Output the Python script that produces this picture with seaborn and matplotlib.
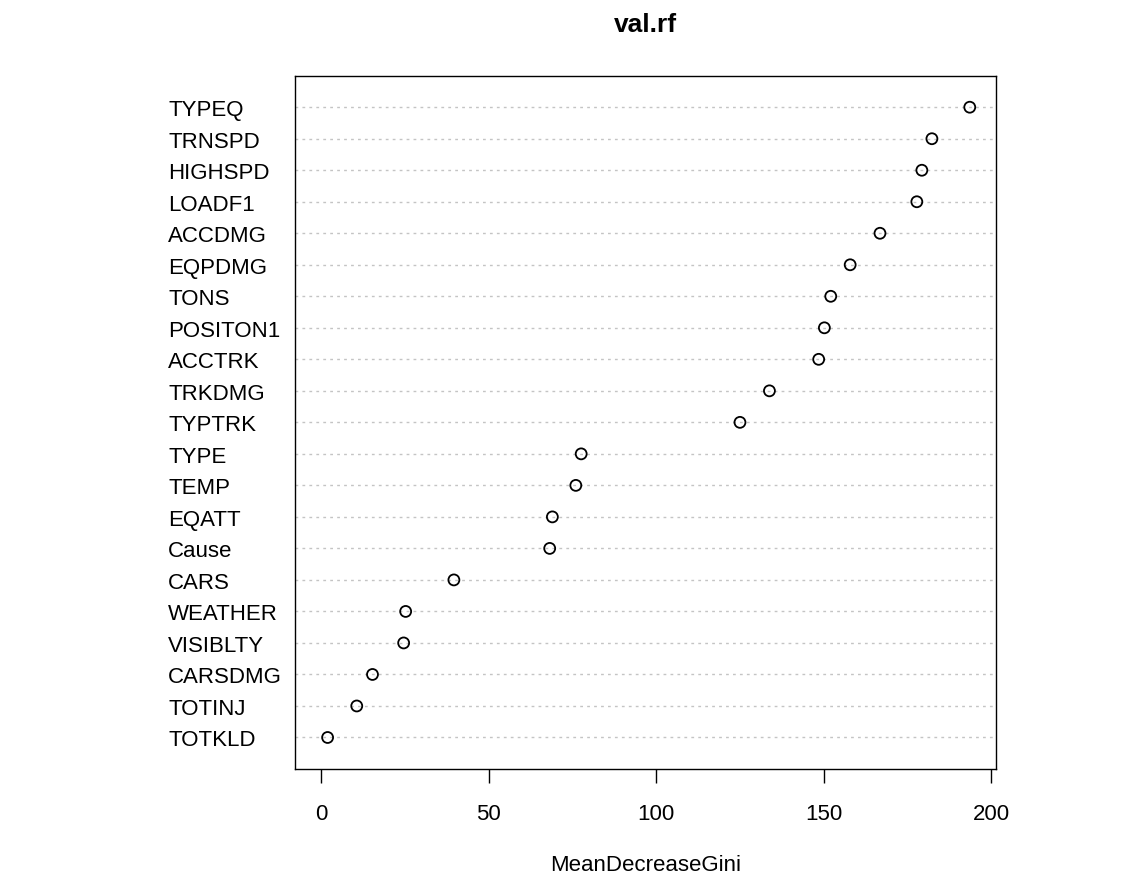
import matplotlib
matplotlib.use("Agg")
import matplotlib.pyplot as plt
import seaborn as sns
import pandas as pd
import numpy as np

# ---- data ----
variables = ["TYPEQ", "TRNSPD", "HIGHSPD", "LOADF1", "ACCDMG", "EQPDMG", "TONS",
             "POSITON1", "ACCTRK", "TRKDMG", "TYPTRK", "TYPE", "TEMP", "EQATT",
             "Cause", "CARS", "WEATHER", "VISIBLTY", "CARSDMG", "TOTINJ", "TOTKLD"]
gini = [193.6, 182.3, 179.3, 177.8, 166.8, 157.9, 152.1,
        150.2, 148.5, 133.8, 125.0, 77.6, 76.0, 69.0,
        68.2, 39.6, 25.2, 24.6, 15.3, 10.6, 1.9]
xticks = [0, 50, 100, 150, 200]
title = "val.rf"
xlabel = "MeanDecreaseGini"

sns.set_theme(style="white")
plt.rcParams["font.family"] = ["Liberation Sans", "DejaVu Sans"]

n = len(variables)
df = pd.DataFrame({"variable": variables, "gini": gini,
                   "pos": np.arange(n, 0, -1)})

W, H = 1145, 879
fig = plt.figure(figsize=(W / 100, H / 100), dpi=100)
left, right, top, bottom = 295.3, 995.7, 76.7, 770.0
ax = fig.add_axes([left / W, 1 - bottom / H, (right - left) / W, (bottom - top) / H])

for p in df["pos"]:
    ax.axhline(p, color="#c4c4c4", lw=1.0, ls=(0, (2, 3)), zorder=1)

sns.scatterplot(data=df, x="gini", y="pos", ax=ax, marker="o", s=62,
                facecolors="none", edgecolor="black", linewidth=1.3,
                zorder=3, legend=False)

mx = max(gini)
ax.set_xlim(-0.04 * mx, 1.04 * mx)
ax.set_ylim(0, n + 1)
ax.set_xticks(xticks)
ax.set_xticklabels([str(t) for t in xticks])
ax.set_yticks(df["pos"])
ax.set_yticklabels(df["variable"])

ax.tick_params(axis="x", length=10, width=1, pad=14.5, labelsize=16,
               colors="black", direction="out", bottom=True)
ax.tick_params(axis="y", length=0, pad=91.4, labelsize=16, colors="black")
for lbl in ax.get_yticklabels():
    lbl.set_ha("left")

for s in ax.spines.values():
    s.set_color("black")
    s.set_linewidth(1.0)
    s.set_visible(True)

ax.set_xlabel(xlabel, fontsize=16, labelpad=21.6, color="black")
ax.set_ylabel("")
ax.set_title(title, fontsize=19, fontweight="bold", pad=32.4, color="black")

fig.savefig("out.png", dpi=100)
